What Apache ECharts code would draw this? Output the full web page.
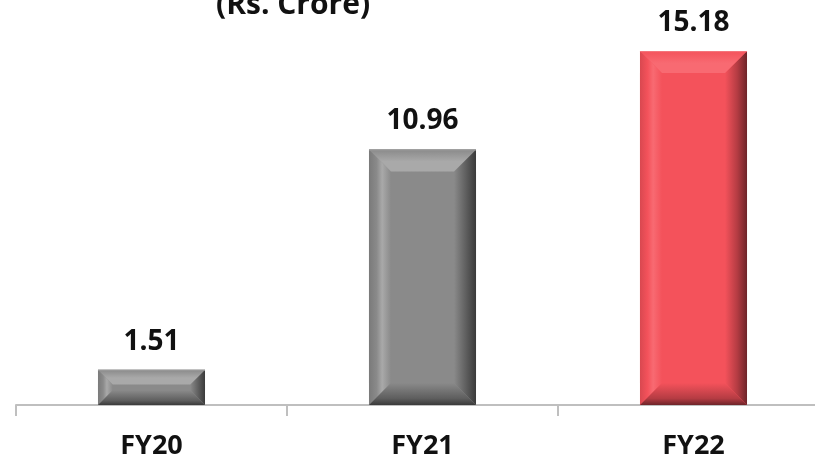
<!DOCTYPE html>
<html>
<head>
<meta charset="utf-8">
<script src="https://cdn.jsdelivr.net/npm/echarts@6/dist/echarts.min.js"></script>
<style>
  html, body { margin: 0; padding: 0; background: #ffffff; }
  #chart { width: 815px; height: 462px; }
</style>
</head>
<body>
<div id="chart"></div>
<script>
// Profit figures by financial year (Rs. Crore)
const categories = ['FY20', 'FY21', 'FY22'];
const values = [1.51, 10.96, 15.18];
const titleText = '(Rs. Crore)';

const FONT = '"Open Sans", "DejaVu Sans", sans-serif';

// Palette for the bevelled bars: grey for past years, red for the latest one
const GREY = { face: '#8a8a8a', top: '#a9a9a9', left: '#7a7a7a', right: '#3a3a3a', bottom: '#5e5e5e', edge: '#9a9a9a' };
const RED  = { face: '#f4525b', top: '#f86a72', left: '#d94850', right: '#6e2429', bottom: '#b53c43', edge: '#f47a80' };

function paletteFor(idx) {
  return idx === categories.length - 1 ? RED : GREY;
}

function lin(x1, y1, x2, y2, stops) {
  return new echarts.graphic.LinearGradient(x1, y1, x2, y2,
    stops.map(function (s) { return { offset: s[0], color: s[1] }; }));
}

function renderBevelBar(params, api) {
  const idx = params.dataIndex;
  const val = api.value(1);
  const top = api.coord([api.value(0), val]);
  const base = api.coord([api.value(0), 0]);
  const bw = api.size([1, 0])[0] * 0.395;
  const x0 = top[0] - bw / 2, x1 = top[0] + bw / 2;
  const y0 = top[1], y1 = base[1];
  const h = y1 - y0;
  const b = Math.min(22, h * 0.42, bw * 0.3);
  const p = paletteFor(idx);

  const ix0 = x0 + b, ix1 = x1 - b, iy0 = y0 + b, iy1 = y1 - b;

  return {
    type: 'group',
    children: [
      // flat face
      { type: 'rect', shape: { x: x0, y: y0, width: bw, height: h }, style: { fill: p.face } },
      // left bevel
      { type: 'polygon', shape: { points: [[x0, y0], [ix0, iy0], [ix0, iy1], [x0, y1]] },
        style: { fill: lin(0, 0, 1, 0, [[0, p.left], [0.35, p.face], [0.6, p.top], [1, p.face]]) } },
      // right bevel
      { type: 'polygon', shape: { points: [[x1, y0], [ix1, iy0], [ix1, iy1], [x1, y1]] },
        style: { fill: lin(0, 0, 1, 0, [[0, p.face], [0.55, p.bottom], [1, p.right]]) } },
      // top bevel
      { type: 'polygon', shape: { points: [[x0, y0], [x1, y0], [ix1, iy0], [ix0, iy0]] },
        style: { fill: lin(0, 0, 0, 1, [[0, p.face], [0.55, p.top], [1, p.top]]) } },
      // bottom bevel
      { type: 'polygon', shape: { points: [[x0, y1], [x1, y1], [ix1, iy1], [ix0, iy1]] },
        style: { fill: lin(0, 0, 0, 1, [[0, p.face], [0.7, p.bottom], [1, p.right]]) } },
      // thin light rim along the top edge
      { type: 'line', shape: { x1: x0, y1: y0 + 0.5, x2: x1, y2: y0 + 0.5 },
        style: { stroke: p.edge, lineWidth: 1 } },
      // value label
      { type: 'text', x: top[0], y: y0 - 14,
        style: { text: val.toFixed(2), fontFamily: FONT, fontWeight: 'bold', fontSize: 28,
                 fill: '#111111', align: 'center', verticalAlign: 'bottom' } }
    ]
  };
}

const chart = echarts.init(document.getElementById('chart'), null, { renderer: 'canvas' });

chart.setOption({
  animation: false,
  backgroundColor: '#ffffff',
  graphic: [{
    type: 'text', left: 216, top: -10,
    style: { text: titleText, fontFamily: FONT, fontWeight: 'bold', fontSize: 30, fill: '#111111' }
  }],
  grid: { left: 16, width: 813, top: 32, bottom: 57, containLabel: false, outerBoundsMode: 'none' },
  xAxis: {
    type: 'category',
    data: categories,
    axisLine: { lineStyle: { color: '#bfbfbf', width: 2 } },
    axisTick: { show: true, length: 11, lineStyle: { color: '#bfbfbf', width: 2 } },
    axisLabel: { color: '#111111', fontFamily: FONT, fontWeight: 'bold', fontSize: 27, margin: 28 }
  },
  yAxis: {
    type: 'value', min: 0, max: 16,
    show: false,
    splitLine: { show: false }
  },
  series: [{
    type: 'custom',
    renderItem: renderBevelBar,
    encode: { x: 0, y: 1 },
    data: values.map(function (v, i) { return [i, v]; })
  }]
});
</script>
</body>
</html>
